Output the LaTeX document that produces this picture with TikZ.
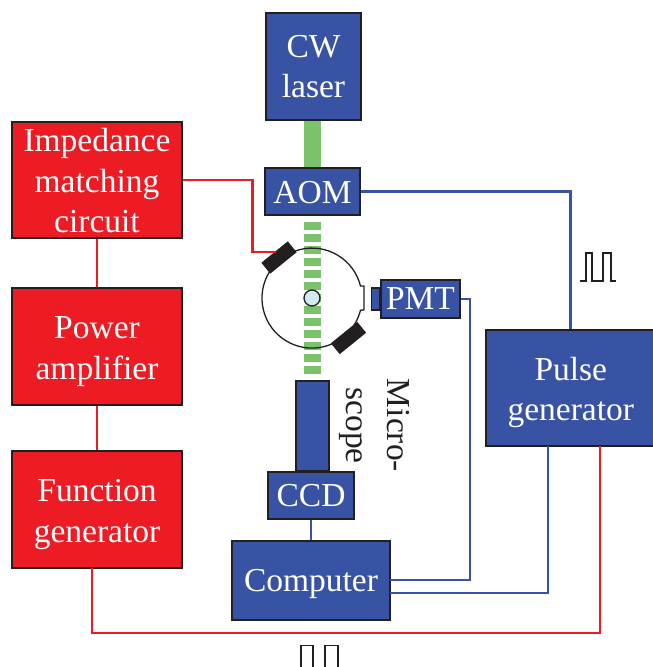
\documentclass[tikz,border=0pt]{standalone}
\usepackage{fontspec}
\usepackage{xcolor}
\setmainfont{Liberation Serif}
\definecolor{boxblue}{HTML}{3953A4}
\definecolor{boxred}{HTML}{ED1C24}
\definecolor{beamgreen}{HTML}{7AC36A}
\definecolor{edge}{HTML}{231F20}
\definecolor{samplecyan}{HTML}{D1E9F1}
\newcommand{\toppad}[1]{\rule{0pt}{#1pt}}

\begin{document}
\begin{tikzpicture}[
  x=1pt, y=-1pt,
  box/.style={rectangle, draw=edge, line width=1.6pt, inner sep=0pt, align=center, text=white,
    font=\fontsize{33.5}{40.5}\selectfont},
  bluebox/.style={box, fill=boxblue},
  redbox/.style={box, fill=boxred},
  mirror/.style={rectangle, fill=edge, minimum width=34pt, minimum height=14pt, inner sep=0pt},
  redline/.style={draw=boxred, line width=2.7pt},
  blueline/.style={draw=boxblue, line width=2.7pt},
  beam/.style={draw=beamgreen, line width=17pt},
  pulseline/.style={draw=edge, line width=1.1pt}
]
\useasboundingbox (0,0) rectangle (653,667);

% blue boxes
\node[bluebox, minimum width=95pt, minimum height=107pt] (laser) at (313.5,66.5) {CW\\laser};
\node[bluebox, minimum width=95pt, minimum height=47pt] (aom) at (312.5,191.5) {\toppad{25}AOM};
\node[bluebox, minimum width=33pt, minimum height=90pt] (scope) at (312.5,426) {};
\node[bluebox, minimum width=86pt, minimum height=47pt] (ccd) at (311,495.5) {CCD};
\node[bluebox, minimum width=158pt, minimum height=79pt] (computer) at (311,580.5) {\toppad{30}Computer};
\node[bluebox, minimum width=79pt, minimum height=38pt] (pmt) at (420.5,299) {PMT};
\node[bluebox, minimum width=8pt, minimum height=22pt, anchor=east] (lens) at (pmt.west) {};
\node[bluebox, minimum width=170pt, minimum height=116pt, anchor=west] (pulse) at (485,388) {\toppad{32}Pulse\\generator};

% red boxes
\node[redbox, minimum width=170pt, minimum height=116pt] (imp) at (97,180) {\toppad{25}Impedance\\matching\\circuit};
\node[redbox, minimum width=170pt, minimum height=117pt] (power) at (97,346.5) {\toppad{32}Power\\amplifier};
\node[redbox, minimum width=170pt, minimum height=117pt] (func) at (97,509.5) {\toppad{32}Function\\generator};

% light path and the cell
\draw[beam] (laser.south -| aom) -- (aom.north);
\draw[beam, dash pattern=on 8pt off 4pt, shorten <=6.5pt, shorten >=3pt] (aom.south) -- (scope.north);
\node[circle, minimum size=100pt, inner sep=0pt] (cell) at (312,298) {};
\draw[draw=edge, line width=1.3pt] (364,286) -- (360.5,286) arc[start angle=-14, end angle=-346, radius=50] -- (364,310) -- cycle;
\node[circle, draw=edge, fill=samplecyan, line width=1.3pt, minimum size=16pt, inner sep=0pt] (sample) at (cell.center) {};
\node[mirror, rotate=39] (pzt) at (279,257.5) {};
\node[mirror, rotate=39] (mirrorb) at (348.5,338) {};
\coordinate (pztin) at (276,252);

% red lines
\draw[redline] (imp.east) -- ++(69.5,0) |- (pztin);
\draw[redline] (imp) -- (power);
\draw[redline] (power) -- (func);
\coordinate (funcout) at (92,568);
\coordinate (pulsein) at (600,446);
\draw[redline] (funcout) |- (600,633) -- (pulsein);

% blue lines
\draw[blueline] (aom.east) -| (pulse.north);
\draw[blueline] (ccd) -- (computer);
\coordinate (compa) at (390,580);
\coordinate (compb) at (390,593);
\coordinate (pulseout) at (548,446);
\draw[blueline] (compa) -| (470,299) -- (pmt.east);
\draw[blueline] (compb) -| (pulseout);

% rotated label
\node[rotate=-90, align=center, font=\fontsize{33.5}{40.5}\selectfont, text=edge] (micro) at (374.5,425.5) {Micro-\\scope};

% pulse shapes
\draw[pulseline] (580,281) -- (586,281) -- (586,253) -- (592,253) -- (592,281) -- (603,281) -- (603,253) -- (611,253) -- (611,281) -- (616,281);
\draw[pulseline] (301,668) -- (301,645.5) -- (313,645.5) -- (313,668);
\draw[pulseline] (325,668) -- (325,645.5) -- (338,645.5) -- (338,668);

\end{tikzpicture}
\end{document}
